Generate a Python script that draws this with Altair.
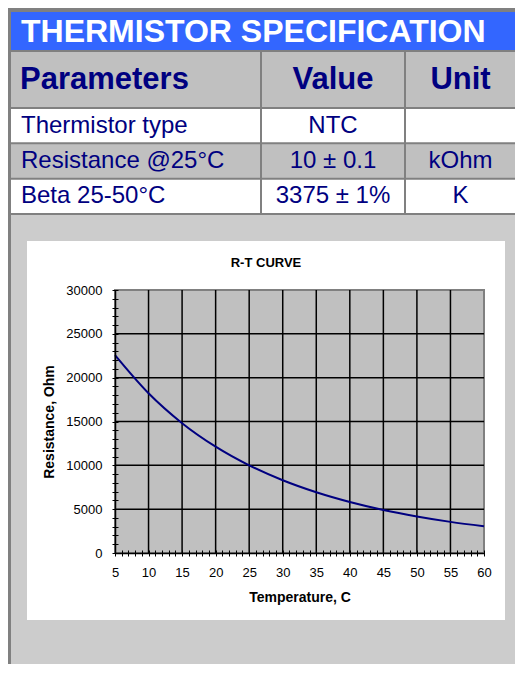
import altair as alt
import pandas as pd

# ---------------- data ----------------
title_text = "THERMISTOR SPECIFICATION"
headers = ["Parameters", "Value", "Unit"]
parameters = ["Thermistor type", "Resistance @25°C", "Beta 25-50°C"]
values = ["NTC", "10 ± 0.1", "3375 ± 1%"]
units = ["", "kOhm", "K"]
row_order = [1, 2, 3]

chart_title = "R-T CURVE"
temperature = [5, 10, 15, 20, 25, 30, 35, 40, 45, 50, 55, 60]
resistance = [22570, 18220, 14810, 12130, 10000, 8300, 6930, 5820, 4910, 4170, 3550, 3050]
x_ticks = [5, 10, 15, 20, 25, 30, 35, 40, 45, 50, 55, 60]
y_ticks = [0, 5000, 10000, 15000, 20000, 25000, 30000]
x_minor = list(range(5, 61, 1))
y_minor = list(range(0, 30001, 1000))

# ---------------- styles / layout ----------------
FONT = "Liberation Sans"
NAVY = "#000080"
BLUE = "#3366ff"
SEP = "#808080"
HEAD_GRAY = "#c0c0c0"
PANEL_GRAY = "#cccccc"
row_fills = ["#ffffff", HEAD_GRAY, "#ffffff"]

TOTAL_W = 504
COL_W = [249, 142, 109]
GAP = 2
TITLE_H = 38
HEAD_H = 55
BODY_H = 104

# ---------------- title row ----------------
title_row = alt.Chart(pd.DataFrame({"t": [title_text]})).mark_text(
    align="left", baseline="middle", font=FONT, fontSize=32,
    fontWeight="bold", color="white"
).encode(
    text="t:N", x=alt.value(10), y=alt.value(TITLE_H / 2 + 1)
).properties(
    width=TOTAL_W, height=TITLE_H,
    view=alt.ViewBackground(fill=BLUE, strokeWidth=0)
)

# ---------------- table ----------------
table_df = pd.DataFrame({
    "row": row_order,
    "fill": row_fills,
    "Parameters": parameters,
    "Value": values,
    "Unit": units,
})

step = (BODY_H + GAP) / 3
row_scale = alt.Scale(paddingInner=GAP / step, paddingOuter=0)

columns = []
for i, (h, w) in enumerate(zip(headers, COL_W)):
    align = "left" if i == 0 else "center"
    tx = 10 if i == 0 else w / 2
    head = alt.Chart(pd.DataFrame({"h": [h]})).mark_text(
        align=align, baseline="middle", font=FONT, fontSize=31,
        fontWeight="bold", color=NAVY
    ).encode(
        text="h:N", x=alt.value(tx - 1 if i == 0 else tx), y=alt.value(HEAD_H / 2)
    ).properties(
        width=w, height=HEAD_H,
        view=alt.ViewBackground(fill=HEAD_GRAY, strokeWidth=0)
    )
    yenc = alt.Y("row:O", axis=None, scale=row_scale)
    rects = alt.Chart(table_df).mark_rect().encode(
        y=yenc, x=alt.value(0), x2=alt.value(w),
        color=alt.Color("fill:N", scale=None)
    )
    texts = alt.Chart(table_df).mark_text(
        align=align, baseline="middle", font=FONT, fontSize=24, color=NAVY
    ).encode(
        y=yenc, x=alt.value(tx), text=f"{h}:N"
    )
    body = alt.layer(rects, texts).properties(width=w, height=BODY_H)
    columns.append(alt.vconcat(head, body, spacing=GAP))

table = alt.hconcat(*columns, spacing=GAP)

# ---------------- R-T curve (region = whole light-grey area) ----------------
LW, LH = TOTAL_W, 449
PX0, PX1 = 104, 473      # plot area left / right inside the region
PY0, PY1 = 75, 338       # plot area top / bottom inside the region

curve_df = pd.DataFrame({"T": temperature, "R": resistance})
one = pd.DataFrame({"k": [0]})

xs = alt.Scale(domain=[5, 60], range=[PX0, PX1], nice=False, zero=False)
ys = alt.Scale(domain=[0, 30000], range=[PY1, PY0], nice=False, zero=False)

panel = alt.Chart(one).mark_rect(color="#ffffff").encode(
    x=alt.value(16), x2=alt.value(494), y=alt.value(26), y2=alt.value(405)
)
plot_bg = alt.Chart(one).mark_rect(
    fill=HEAD_GRAY, stroke=SEP, strokeWidth=2
).encode(
    x=alt.value(PX0), x2=alt.value(PX1), y=alt.value(PY0), y2=alt.value(PY1)
)
ctitle = alt.Chart(pd.DataFrame({"t": [chart_title]})).mark_text(
    align="center", baseline="alphabetic", font=FONT, fontSize=13,
    fontWeight="bold", color="black"
).encode(text="t:N", x=alt.value(255), y=alt.value(52))

# inner black gridlines (outer frame is the grey plot border / axes)
vgrid = alt.Chart(pd.DataFrame({"T": x_ticks[1:-1]})).mark_rule(
    color="black", strokeWidth=1.5
).encode(
    x=alt.X("T:Q", scale=xs, axis=None),
    y=alt.YDatum(0, scale=ys, axis=None),
    y2=alt.Y2Datum(30000),
)
hgrid = alt.Chart(pd.DataFrame({"R": y_ticks[1:-1]})).mark_rule(
    color="black", strokeWidth=1.5
).encode(
    y=alt.Y("R:Q", scale=ys, axis=None),
    x=alt.XDatum(5, scale=xs, axis=None),
    x2=alt.X2Datum(60),
)

x_axis = alt.Axis(
    values=x_ticks, grid=False, domainColor="black", domainWidth=1.5,
    tickSize=0, labelPadding=13, offset=-(LH - PY1),
    labelFont=FONT, labelFontSize=13, labelColor="black", labelFlush=False,
    title="Temperature, C", titleFont=FONT, titleFontSize=14,
    titleFontWeight="bold", titleColor="black", titlePadding=11, zindex=1,
    orient="bottom"
)
y_axis = alt.Axis(
    values=y_ticks, grid=False, domainColor="black", domainWidth=1.5,
    tickSize=0, labelPadding=13, offset=-PX0, format="d",
    labelFont=FONT, labelFontSize=13, labelColor="black", labelFlush=False,
    title="Resistance, Ohm", titleFont=FONT, titleFontSize=14,
    titleFontWeight="bold", titleColor="black", titlePadding=9, zindex=1,
    orient="left"
)
x_axis_minor = alt.Axis(
    values=x_minor, labels=False, domain=False, grid=False, ticks=True,
    tickSize=6, tickColor="black", tickWidth=1, offset=-(LH - PY1) - 3,
    title=None, zindex=1, orient="bottom"
)
y_axis_minor = alt.Axis(
    values=y_minor, labels=False, domain=False, grid=False, ticks=True,
    tickSize=6, tickColor="black", tickWidth=1, offset=-PX0 - 3,
    title=None, zindex=1, orient="left"
)

line = alt.Chart(curve_df).mark_line(
    color=NAVY, strokeWidth=2, interpolate="monotone"
).encode(
    x=alt.X("T:Q", scale=xs, axis=x_axis),
    y=alt.Y("R:Q", scale=ys, axis=y_axis),
)
minor = alt.Chart(curve_df).mark_point(opacity=0).encode(
    x=alt.X("T:Q", scale=xs, axis=x_axis_minor),
    y=alt.Y("R:Q", scale=ys, axis=y_axis_minor),
)

lower = alt.layer(panel, plot_bg, ctitle, vgrid, hgrid, line, minor).resolve_axis(
    x="independent", y="independent"
).properties(
    width=LW, height=LH,
    view=alt.ViewBackground(fill=PANEL_GRAY, strokeWidth=0)
)

chart = alt.vconcat(title_row, table, lower, spacing=GAP).properties(
    padding={"left": 3, "top": 4, "right": 0, "bottom": 0},
    background=SEP,
).configure_view(strokeWidth=0)

chart.save("out.html", embed_options={"renderer": "svg", "actions": False})
